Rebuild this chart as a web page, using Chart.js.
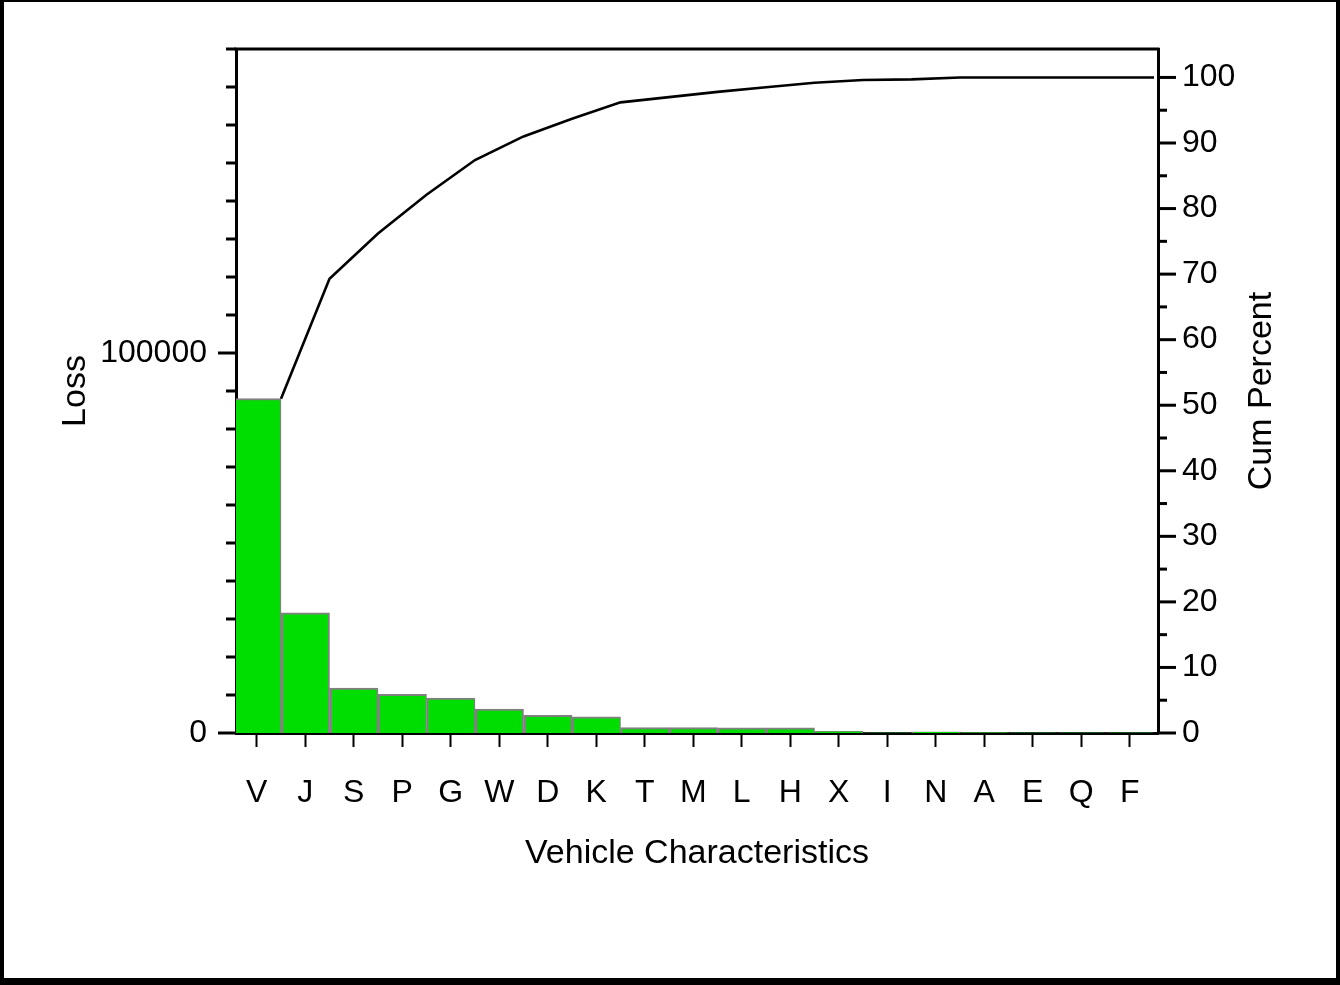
<!DOCTYPE html>
<html>
<head>
<meta charset="utf-8">
<title>Loss by Vehicle Characteristics</title>
<script src="https://cdn.jsdelivr.net/npm/chart.js@4.4.1/dist/chart.umd.min.js"></script>
<style>
  html, body { margin: 0; padding: 0; background: #fff; }
  #wrap { position: relative; width: 1340px; height: 985px; }
  #frame {
    position: absolute; left: 0; top: 0; width: 1340px; height: 985px;
    box-sizing: border-box; border-style: solid; border-color: #000;
    border-width: 2px 4px 7px 4px;
  }
  #pareto { position: absolute; left: 0; top: 0; }
</style>
</head>
<body>
<div id="wrap">
  <div id="frame"></div>
  <canvas id="pareto" width="1340" height="985"></canvas>
</div>
<script>
// pareto data: loss per vehicle characteristic, sorted descending
const categories = ['V', 'J', 'S', 'P', 'G', 'W', 'D', 'K', 'T', 'M', 'L', 'H', 'X', 'I', 'N', 'A', 'E', 'Q', 'F'];
const lossValues = [88000, 31600, 11800, 10150, 9200, 6300, 4650, 4250, 1400, 1400, 1380, 1370, 420, 60, 330, 80, 50, 40, 30];
const cumPercent = [51.0, 69.3, 76.2, 82.1, 87.4, 91.0, 93.7, 96.2, 97.0, 97.8, 98.5, 99.2, 99.6, 99.7, 100.0, 100.0, 100.0, 100.0, 100.0];
const lossLabels = [0, 100000];
const percentLabels = [0, 10, 20, 30, 40, 50, 60, 70, 80, 90, 100];

const FONT = '"Liberation Sans", Arial, Helvetica, sans-serif';
Chart.defaults.font.family = FONT;
Chart.defaults.color = '#000';

const tickFont = { size: 32 };
const titleFont = { size: 34 };

// drawn tick marks: long ones on labelled values, short ones in between
const axisMarks = {
  id: 'axisMarks',
  afterDraw(chart) {
    const { ctx, chartArea: a, scales } = chart;
    ctx.save();
    ctx.strokeStyle = '#000';
    ctx.lineWidth = 3;

    ctx.beginPath();
    ctx.moveTo(a.left - 1.5, a.top);
    ctx.lineTo(a.right + 1.5, a.top);
    ctx.stroke();

    const yl = scales.yLoss;
    yl.ticks.forEach(t => {
      const y = yl.getPixelForValue(t.value);
      const len = lossLabels.includes(t.value) ? 18 : 10;
      ctx.beginPath();
      ctx.moveTo(a.left - len, y);
      ctx.lineTo(a.left, y);
      ctx.stroke();
    });

    const yp = scales.yPct;
    yp.ticks.forEach(t => {
      const y = yp.getPixelForValue(t.value);
      const len = percentLabels.includes(t.value) ? 18 : 9;
      ctx.beginPath();
      ctx.moveTo(a.right, y);
      ctx.lineTo(a.right + len, y);
      ctx.stroke();
    });

    // right-hand axis title reads bottom to top like the left one
    ctx.fillStyle = '#000';
    ctx.font = titleFont.size + 'px ' + FONT;
    ctx.textAlign = 'center';
    ctx.textBaseline = 'middle';
    ctx.translate(1262, (a.top + a.bottom) / 2);
    ctx.rotate(-Math.PI / 2);
    ctx.fillText('Cum Percent', 0, 0);
    ctx.restore();
  }
};

new Chart(document.getElementById('pareto'), {
  data: {
    datasets: [
      {
        type: 'line',
        label: 'Cum Percent',
        data: cumPercent.map((p, i) => ({ x: i + 1, y: p })),
        xAxisID: 'x',
        yAxisID: 'yPct',
        borderColor: '#000',
        borderWidth: 2.6,
        pointRadius: 0,
        tension: 0,
        fill: false,
        order: 0
      },
      {
        type: 'bar',
        label: 'Loss',
        data: lossValues.map((v, i) => ({ x: i + 0.5, y: v })),
        xAxisID: 'x',
        yAxisID: 'yLoss',
        backgroundColor: '#00dd00',
        borderColor: '#808080',
        borderWidth: 2,
        barPercentage: 1,
        categoryPercentage: 1,
        order: 1
      }
    ]
  },
  options: {
    responsive: false,
    animation: false,
    layout: { padding: { top: 49, left: 0, right: 0, bottom: 0 } },
    plugins: { legend: { display: false }, tooltip: { enabled: false } },
    scales: {
      x: {
        type: 'linear',
        offset: false,
        // first bar sits partly under the left axis
        min: 0.072,
        max: 19.082,
        afterBuildTicks: s => { s.ticks = categories.map((c, i) => ({ value: i + 0.5 })); },
        ticks: {
          callback: (v, i) => categories[i],
          autoSkip: false,
          maxRotation: 0,
          padding: 27,
          font: tickFont
        },
        grid: {
          display: true, offset: false, drawOnChartArea: false, drawTicks: true,
          tickLength: 14, tickWidth: 2, tickColor: '#000'
        },
        border: { display: true, color: '#000', width: 3 },
        title: { display: true, text: 'Vehicle Characteristics', font: titleFont, padding: { top: 0, bottom: 111 } },
        afterFit: s => { s.height = 252; },
        z: 1
      },
      yLoss: {
        position: 'left',
        min: 0,
        max: 180000,
        ticks: {
          stepSize: 10000,
          autoSkip: false,
          padding: 29,
          font: tickFont,
          callback: v => lossLabels.includes(v) ? String(v) : ''
        },
        grid: { display: false, drawTicks: false },
        border: { display: true, color: '#000', width: 3 },
        title: { display: true, text: 'Loss', font: titleFont, padding: { top: 55, bottom: 0 } },
        afterFit: s => { s.width = 236; },
        z: 1
      },
      yPct: {
        position: 'right',
        min: 0,
        max: 104.34,
        afterBuildTicks: s => {
          const t = [];
          for (let v = 0; v <= 100; v += 5) t.push({ value: v });
          s.ticks = t;
        },
        ticks: {
          autoSkip: false,
          padding: 24,
          font: tickFont,
          callback: v => percentLabels.includes(v) ? String(v) : ''
        },
        grid: { display: false, drawTicks: false },
        border: { display: true, color: '#000', width: 3 },
        afterFit: s => { s.width = 182; },
        z: 1
      }
    }
  },
  plugins: [axisMarks]
});
</script>
</body>
</html>
